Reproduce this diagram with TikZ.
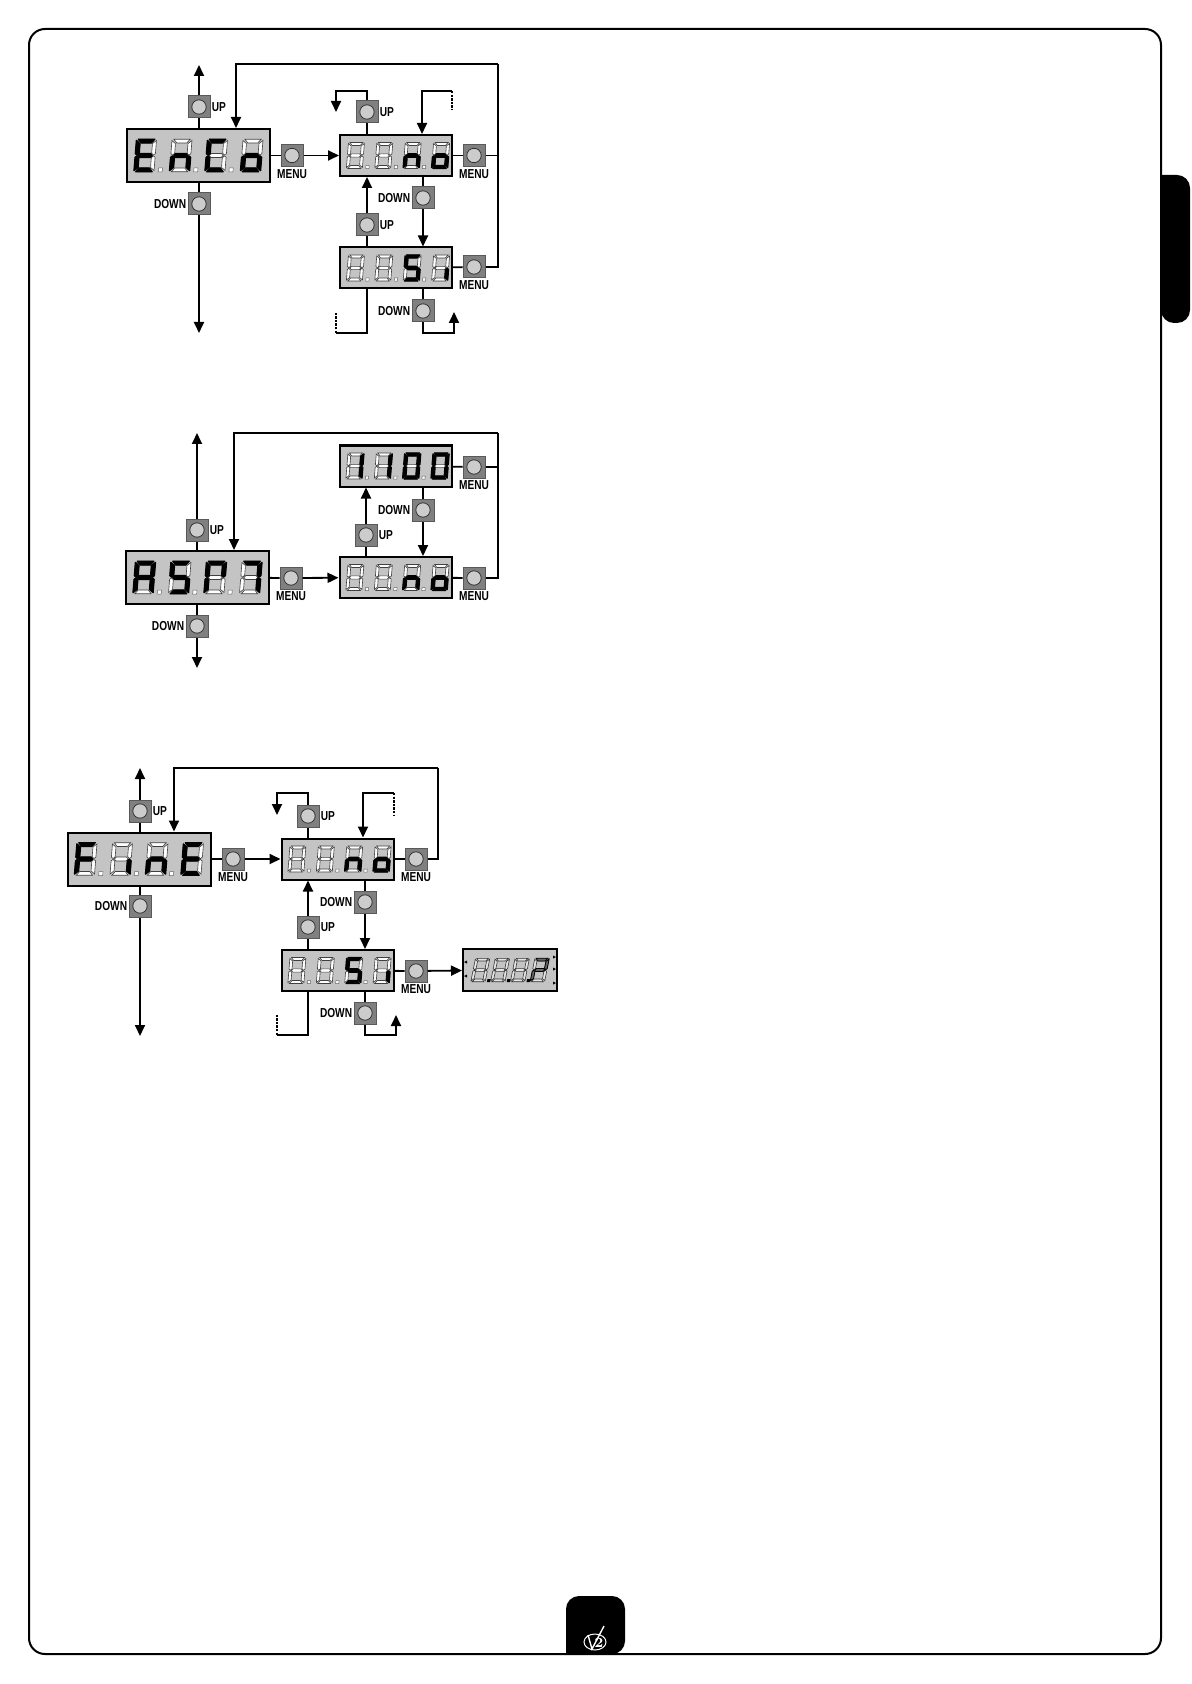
\documentclass[tikz,border=0pt]{standalone}
\usepackage{fontspec}
\usetikzlibrary{positioning,arrows.meta}
\newfontfamily\keyfont[FakeStretch=0.78]{Liberation Sans}

% segments of one digit, in pixels round its centre
\newcommand{\segshape}{}
\newcommand{\segshapea}{(-6.5,-13) -- (6.5,-13) -- (4,-10) -- (-4,-10) -- cycle}
\newcommand{\segshapeb}{(8,-12) -- (8,-1.5) -- (6.5,-.3) -- (5,-1.8) -- (5,-9.5) -- cycle}
\newcommand{\segshapec}{(8,12) -- (8,1.5) -- (6.5,.3) -- (5,1.8) -- (5,9.5) -- cycle}
\newcommand{\segshaped}{(-6.5,13) -- (6.5,13) -- (4,10) -- (-4,10) -- cycle}
\newcommand{\segshapee}{(-8,12) -- (-8,1.5) -- (-6.5,.3) -- (-5,1.8) -- (-5,9.5) -- cycle}
\newcommand{\segshapef}{(-8,-12) -- (-8,-1.5) -- (-6.5,-.3) -- (-5,-1.8) -- (-5,-9.5) -- cycle}
\newcommand{\segshapeg}{(-5.5,0) -- (-4,-1.6) -- (4,-1.6) -- (5.5,0) -- (4,1.6) -- (-4,1.6) -- cycle}

\newcommand{\segdigit}[1]{%
  \foreach \s in {a,b,c,d,e,f,g} {\path[segoff] \csname segshape\s\endcsname;}
  \foreach \s in #1 {\path[segon] \csname segshape\s\endcsname;}
}
% four digits and three dots: centre x, centre y, size, lit segments
\newcommand{\segrow}[7]{%
  \begin{scope}[shift={(#1,#2)}, x=#3*.5pt, y=-#3*.5pt, xslant=.08]
    \foreach \dx/\lit in {-42.6/{#4},-14.2/{#5},14.2/{#6},42.6/{#7}} {
      \begin{scope}[shift={(\dx,0)}]
        \segdigit{\lit}
      \end{scope}
    }
    \foreach \dx in {-29.6,-1.2,27} {\path[segdot] (\dx-1.6,10) rectangle (\dx+1.6,13.2);}
  \end{scope}
}

\begin{document}
\begin{tikzpicture}[
    x=.5pt, y=-.5pt,
    bigdisp/.style={draw, line width=1pt, fill=black!23, minimum width=71.5pt, minimum height=26.5pt, inner sep=0pt},
    smalldisp/.style={draw, line width=1pt, fill=black!23, minimum width=56pt, minimum height=20.5pt, inner sep=0pt},
    btn/.style={draw=black!65, fill=black!50, line width=.5pt, minimum size=11pt, inner sep=0pt,
                path picture={\draw[black!80, fill=black!20, line width=.4pt] (path picture bounding box.center) circle (3.6pt);}},
    keytext/.style={font=\keyfont\bfseries\fontsize{6.5}{7}\selectfont, inner sep=0pt},
    link/.style={line width=.9pt},
    flow/.style={-{Triangle[length=5.5pt,width=5pt]}, line width=.9pt},
    stub/.style={line width=.9pt, dash pattern=on 1.2pt off .6pt},
    segoff/.style={fill=white, draw=black!75, line width=.3pt},
    segon/.style={fill=black, draw=black, line width=.7pt, line join=round},
    segdot/.style={fill=white, draw=black!60, line width=.25pt},
  ]
  \useasboundingbox (0,0) rectangle (1191,1684);

  % page frame and tabs
  \fill[rounded corners=6.5pt] (1161,175) -- (1190,175) -- (1190,323) -- (1161,323) [sharp corners] -- cycle;
  \fill[rounded corners=6.5pt] (566,1654) -- (566,1596) -- (625,1596) -- (625,1654) [sharp corners] -- cycle;
  \draw[line width=1pt, rounded corners=8pt] (29,29) rectangle (1161,1654);
  \draw[white, line width=.5pt] (595,1642) ellipse (11 and 8);
  \draw[white, line width=.7pt] (588,1635) -- (592,1649) -- (604,1626);
  \node[white, font=\fontsize{7}{7}\selectfont\bfseries, inner sep=0pt] (logotwo) at (599,1643) {2};

  % first menu
  \node[bigdisp] (enco) at (198.5,155.5) {};
  \node[smalldisp] (noa) at (396,155.5) {};
  \node[smalldisp] (sia) at (396,268) {};
  \node[btn] (encoUp) at (199,107) {};
  \node[keytext, right=.5pt of encoUp] (encoUpT) {UP};
  \node[btn] (encoDown) at (199,204) {};
  \node[keytext, left=.5pt of encoDown] (encoDownT) {DOWN};
  \node[btn] (encoMenu) at (292,155.5) {};
  \node[keytext, below=1pt of encoMenu] (encoMenuT) {MENU};
  \node[btn] (noaUp) at (367,112) {};
  \node[keytext, right=.5pt of noaUp] (noaUpT) {UP};
  \node[btn] (noaDown) at (423,198) {};
  \node[keytext, left=.5pt of noaDown] (noaDownT) {DOWN};
  \node[btn] (noaMenu) at (474,155.5) {};
  \node[keytext, below=1pt of noaMenu] (noaMenuT) {MENU};
  \node[btn] (siaUp) at (367,225) {};
  \node[keytext, right=.5pt of siaUp] (siaUpT) {UP};
  \node[btn] (siaDown) at (423,311) {};
  \node[keytext, left=.5pt of siaDown] (siaDownT) {DOWN};
  \node[btn] (siaMenu) at (474,267) {};
  \node[keytext, below=1pt of siaMenu] (siaMenuT) {MENU};
  \segrow{198.5}{155.5}{1.25}{a,d,e,f,g}{c,e,g}{a,d,e,f}{c,d,e,g}
  \segrow{398}{155.5}{1}{}{}{c,e,g}{c,d,e,g}
  \segrow{398}{268}{1}{}{}{a,c,d,f,g}{c}

  \coordinate (encoTop) at (199,65);
  \coordinate (encoEnd) at (199,333);
  \coordinate (encoBackA) at (498,64);
  \coordinate (encoBackB) at (236,64);
  \coordinate (noaUpA) at (367,91);
  \coordinate (noaUpB) at (336,91);
  \coordinate (noaUpC) at (336,112);
  \coordinate (noaInA) at (452,91);
  \coordinate (noaInB) at (452,110);
  \coordinate (noaInC) at (422,91);
  \coordinate (siaDownA) at (423,333);
  \coordinate (siaDownB) at (454,333);
  \coordinate (siaDownC) at (454,312);
  \coordinate (siaOutA) at (367,333);
  \coordinate (siaOutB) at (336,333);
  \coordinate (siaOutC) at (336,312);

  \draw[link] (encoUp |- enco.north) -- (encoUp);
  \draw[flow] (encoUp) -- (encoTop);
  \draw[link] (encoDown |- enco.south) -- (encoDown);
  \draw[flow] (encoDown) -- (encoEnd);
  \draw[link] (enco) -- (encoMenu);
  \draw[flow] (encoMenu) -- (noa);
  \draw[link] (noaMenu) -- (noa);
  \draw[link] (sia) -- (siaMenu);
  \draw[link] (noaMenu) -- (noaMenu -| encoBackA);
  \draw[link] (siaMenu) -- (siaMenu -| encoBackA) -- (encoBackA);
  \draw[flow] (encoBackA) -- (encoBackB) -- (encoBackB |- enco.north);
  \draw[link] (noaUp |- noa.north) -- (noaUp);
  \draw[flow] (noaUp) -- (noaUpA) -- (noaUpB) -- (noaUpC);
  \draw[flow] (noaInA) -- (noaInC) -- (noaInC |- noa.north);
  \draw[stub] (noaInA) -- (noaInB);
  \draw[link] (noaDown |- noa.south) -- (noaDown);
  \draw[flow] (noaDown) -- (noaDown |- sia.north);
  \draw[link] (siaUp |- sia.north) -- (siaUp);
  \draw[flow] (siaUp) -- (siaUp |- noa.south);
  \draw[link] (siaDown |- sia.south) -- (siaDown);
  \draw[flow] (siaDown) -- (siaDownA) -- (siaDownB) -- (siaDownC);
  \draw[link] (siaOutA |- sia.south) -- (siaOutA) -- (siaOutB);
  \draw[stub] (siaOutB) -- (siaOutC);

  % second menu
  \node[bigdisp] (asm) at (197.5,577.5) {};
  \node[smalldisp] (hour) at (395.5,466) {};
  \node[smalldisp] (nob) at (395.5,577.5) {};
  \node[btn] (asmUp) at (197,530) {};
  \node[keytext, right=.5pt of asmUp] (asmUpT) {UP};
  \node[btn] (asmDown) at (197,626) {};
  \node[keytext, left=.5pt of asmDown] (asmDownT) {DOWN};
  \node[btn] (asmMenu) at (291,578) {};
  \node[keytext, below=1pt of asmMenu] (asmMenuT) {MENU};
  \node[btn] (hourMenu) at (474,467) {};
  \node[keytext, below=1pt of hourMenu] (hourMenuT) {MENU};
  \node[btn] (hourDown) at (423,510) {};
  \node[keytext, left=.5pt of hourDown] (hourDownT) {DOWN};
  \node[btn] (nobUp) at (366,535) {};
  \node[keytext, right=.5pt of nobUp] (nobUpT) {UP};
  \node[btn] (nobMenu) at (474,578) {};
  \node[keytext, below=1pt of nobMenu] (nobMenuT) {MENU};
  \segrow{197.5}{577.5}{1.25}{a,b,c,e,f,g}{a,c,d,f,g}{a,b,e,f}{a,b,c}
  \segrow{397.5}{466}{1}{b,c}{b,c}{a,b,c,d,e,f}{a,b,c,d,e,f}
  \segrow{397.5}{577.5}{1}{}{}{c,e,g}{c,d,e,g}

  \coordinate (asmTop) at (197,433);
  \coordinate (asmEnd) at (197,668);
  \coordinate (asmBackA) at (498,433);
  \coordinate (asmBackB) at (234,433);

  \draw[link] (asmUp |- asm.north) -- (asmUp);
  \draw[flow] (asmUp) -- (asmTop);
  \draw[link] (asmDown |- asm.south) -- (asmDown);
  \draw[flow] (asmDown) -- (asmEnd);
  \draw[link] (asm) -- (asmMenu);
  \draw[flow] (asmMenu) -- (nob);
  \draw[link] (hour) -- (hourMenu);
  \draw[link] (nob) -- (nobMenu);
  \draw[link] (hourMenu) -- (hourMenu -| asmBackA);
  \draw[link] (nobMenu) -- (nobMenu -| asmBackA) -- (asmBackA);
  \draw[flow] (asmBackA) -- (asmBackB) -- (asmBackB |- asm.north);
  \draw[link] (hourDown |- hour.south) -- (hourDown);
  \draw[flow] (hourDown) -- (hourDown |- nob.north);
  \draw[link] (nobUp |- nob.north) -- (nobUp);
  \draw[flow] (nobUp) -- (nobUp |- hour.south);

  % third menu
  \node[bigdisp] (fine) at (139,859) {};
  \node[smalldisp] (noc) at (337.5,859) {};
  \node[smalldisp] (sic) at (337.5,970.5) {};
  \node[smalldisp, minimum width=47pt, minimum height=21pt] (count) at (510,970) {};
  \node[btn] (fineUp) at (140,811) {};
  \node[keytext, right=.5pt of fineUp] (fineUpT) {UP};
  \node[btn] (fineDown) at (140,906) {};
  \node[keytext, left=.5pt of fineDown] (fineDownT) {DOWN};
  \node[btn] (fineMenu) at (233,859) {};
  \node[keytext, below=1pt of fineMenu] (fineMenuT) {MENU};
  \node[btn] (nocUp) at (308,816) {};
  \node[keytext, right=.5pt of nocUp] (nocUpT) {UP};
  \node[btn] (nocDown) at (365,902) {};
  \node[keytext, left=.5pt of nocDown] (nocDownT) {DOWN};
  \node[btn] (nocMenu) at (416,859) {};
  \node[keytext, below=1pt of nocMenu] (nocMenuT) {MENU};
  \node[btn] (sicUp) at (308,927) {};
  \node[keytext, right=.5pt of sicUp] (sicUpT) {UP};
  \node[btn] (sicDown) at (365,1013) {};
  \node[keytext, left=.5pt of sicDown] (sicDownT) {DOWN};
  \node[btn] (sicMenu) at (416,971) {};
  \node[keytext, below=1pt of sicMenu] (sicMenuT) {MENU};
  \segrow{139}{859}{1.25}{a,e,f,g}{c}{c,e,g}{a,d,e,f,g}
  \segrow{339.5}{859}{1}{}{}{c,e,g}{c,d,e,g}
  \segrow{339.5}{970.5}{1}{}{}{a,c,d,f,g}{c}
  \begin{scope}[shift={(510,970)}, x=.45pt, y=-.45pt, xslant=.2,
      segoff/.style={fill=black!10, draw=black!80, line width=.3pt},
      segon/.style={fill=black!60, draw=black, line width=.4pt},
      segdot/.style={fill=black}]
    \foreach \dx/\lit in {-33/{},-11/{},11/{},33/{a,b,e,g}} {
      \begin{scope}[shift={(\dx,0)}]
        \segdigit{\lit}
      \end{scope}
    }
    \foreach \dx in {-24,-2,20} {\path[segdot] (\dx+1,10) rectangle (\dx+4.5,13.5);}
  \end{scope}
  \foreach \tx/\ty in {467/962,467/976} {\fill (\tx,\ty-1.5) -- (\tx-3,\ty) -- (\tx,\ty+1.5) -- cycle;}
  \foreach \tx/\ty in {553/957,553/969,553/983} {\fill (\tx,\ty-1.5) -- (\tx+3,\ty) -- (\tx,\ty+1.5) -- cycle;}

  \coordinate (fineTop) at (140,768);
  \coordinate (fineEnd) at (140,1036);
  \coordinate (fineBackA) at (438,768);
  \coordinate (fineBackB) at (174,768);
  \coordinate (nocUpA) at (308,793);
  \coordinate (nocUpB) at (277,793);
  \coordinate (nocUpC) at (277,815);
  \coordinate (nocInA) at (394,793);
  \coordinate (nocInB) at (394,815);
  \coordinate (nocInC) at (363,793);
  \coordinate (sicDownA) at (365,1035);
  \coordinate (sicDownB) at (396,1035);
  \coordinate (sicDownC) at (396,1015);
  \coordinate (sicOutA) at (308,1035);
  \coordinate (sicOutB) at (277,1035);
  \coordinate (sicOutC) at (277,1015);

  \draw[link] (fineUp |- fine.north) -- (fineUp);
  \draw[flow] (fineUp) -- (fineTop);
  \draw[link] (fineDown |- fine.south) -- (fineDown);
  \draw[flow] (fineDown) -- (fineEnd);
  \draw[link] (fine) -- (fineMenu);
  \draw[flow] (fineMenu) -- (noc);
  \draw[link] (noc) -- (nocMenu);
  \draw[link] (nocMenu) -- (nocMenu -| fineBackA) -- (fineBackA);
  \draw[flow] (fineBackA) -- (fineBackB) -- (fineBackB |- fine.north);
  \draw[link] (nocUp |- noc.north) -- (nocUp);
  \draw[flow] (nocUp) -- (nocUpA) -- (nocUpB) -- (nocUpC);
  \draw[flow] (nocInA) -- (nocInC) -- (nocInC |- noc.north);
  \draw[stub] (nocInA) -- (nocInB);
  \draw[link] (nocDown |- noc.south) -- (nocDown);
  \draw[flow] (nocDown) -- (nocDown |- sic.north);
  \draw[link] (sicUp |- sic.north) -- (sicUp);
  \draw[flow] (sicUp) -- (sicUp |- noc.south);
  \draw[link] (sic) -- (sicMenu);
  \draw[flow] (sicMenu) -- (count);
  \draw[link] (sicDown |- sic.south) -- (sicDown);
  \draw[flow] (sicDown) -- (sicDownA) -- (sicDownB) -- (sicDownC);
  \draw[link] (sicOutA |- sic.south) -- (sicOutA) -- (sicOutB);
  \draw[stub] (sicOutB) -- (sicOutC);
\end{tikzpicture}
\end{document}
